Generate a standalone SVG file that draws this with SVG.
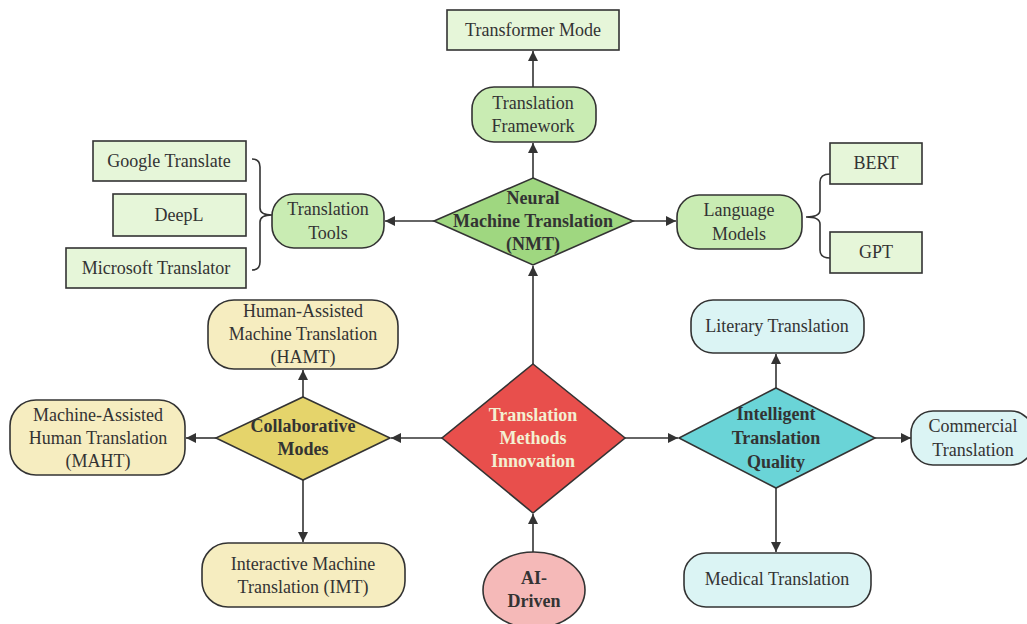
<svg xmlns="http://www.w3.org/2000/svg" width="1027" height="624" viewBox="0 0 1027 624" font-family="'Liberation Serif', serif">
<defs>
<marker id="arr" viewBox="0 0 10 10" refX="10" refY="5" markerWidth="10" markerHeight="10" markerUnits="userSpaceOnUse" orient="auto">
<path d="M0,0 L10,5 L0,10 z" fill="#333"/>
</marker>
<style>
text{font-family:'Liberation Serif',serif;font-size:18px;fill:#333;text-anchor:middle}
.b{font-weight:bold}
.w{fill:#f3f0d2}
.sh{stroke:#333;stroke-width:1.6}
.lg{fill:#e6f6d9}
.mg{fill:#c9ecb3}
.yl{fill:#f6edc0}
.cy{fill:#dbf4f4}
.ed{stroke:#333;stroke-width:1.6;fill:none}
</style>
</defs>
<rect width="1027" height="624" fill="#ffffff"/>
<g id="connectors">
<path class="ed" d="M533,364 V266" marker-end="url(#arr)"/>
<path class="ed" d="M533,178 V143" marker-end="url(#arr)"/>
<path class="ed" d="M533,87 V51" marker-end="url(#arr)"/>
<path class="ed" d="M434,221 H385" marker-end="url(#arr)"/>
<path class="ed" d="M633,221 H676" marker-end="url(#arr)"/>
<path class="ed" d="M442,438 H391" marker-end="url(#arr)"/>
<path class="ed" d="M303,397 V370" marker-end="url(#arr)"/>
<path class="ed" d="M216,438 H186" marker-end="url(#arr)"/>
<path class="ed" d="M303,480 V542" marker-end="url(#arr)"/>
<path class="ed" d="M625,438 H678" marker-end="url(#arr)"/>
<path class="ed" d="M776,388 V354" marker-end="url(#arr)"/>
<path class="ed" d="M875,438 H911" marker-end="url(#arr)"/>
<path class="ed" d="M776,488 V552" marker-end="url(#arr)"/>
<path class="ed" d="M533,552 V514" marker-end="url(#arr)"/>
<path class="ed" d="M252,159 Q260,159 260,167 V208 Q260,215 272,215 Q260,215 260,222 V262 Q260,270 252,270"/>
<path class="ed" d="M830,174 Q820,174 820,182 V210 Q820,217 806,217 Q820,217 820,224 V250 Q820,258 830,258"/>
</g>
<g id="transformer"><rect class="lg sh" x="447" y="10" width="172" height="40"/><text x="533" y="36">Transformer Mode</text></g>
<g id="framework"><rect class="mg sh" x="472" y="87" width="124" height="55" rx="22"/><text x="533" y="109">Translation</text><text x="533" y="132">Framework</text></g>
<g id="nmt"><polygon class="sh" fill="#9fd780" points="533,178 633,221 533,265 434,221"/><text class="b" x="533" y="204">Neural</text><text class="b" x="533" y="227">Machine Translation</text><text class="b" x="533" y="250">(NMT)</text></g>
<g id="tools"><rect class="mg sh" x="272" y="194" width="112" height="54" rx="22"/><text x="328" y="215">Translation</text><text x="328" y="239">Tools</text></g>
<g id="google"><rect class="lg sh" x="93" y="141" width="153" height="40"/><text x="169" y="167">Google Translate</text></g>
<g id="deepl"><rect class="lg sh" x="113" y="194" width="133" height="42"/><text x="179" y="221">DeepL</text></g>
<g id="microsoft"><rect class="lg sh" x="66" y="248" width="180" height="40"/><text x="156" y="274">Microsoft Translator</text></g>
<g id="langmodels"><rect class="mg sh" x="677" y="195" width="125" height="54" rx="22"/><text x="739" y="216">Language</text><text x="739" y="240">Models</text></g>
<g id="bert"><rect class="lg sh" x="830" y="143" width="92" height="41"/><text x="876" y="169">BERT</text></g>
<g id="gpt"><rect class="lg sh" x="830" y="232" width="92" height="41"/><text x="876" y="258">GPT</text></g>
<g id="hamt"><rect class="yl sh" x="208" y="300" width="190" height="69" rx="26"/><text x="303" y="317">Human-Assisted</text><text x="303" y="340">Machine Translation</text><text x="303" y="363">(HAMT)</text></g>
<g id="collab"><polygon class="sh" fill="#e5d46b" points="303,397 390,438 303,480 216,438"/><text class="b" x="303" y="432">Collaborative</text><text class="b" x="303" y="455">Modes</text></g>
<g id="maht"><rect class="yl sh" x="10" y="400" width="175" height="75" rx="26"/><text x="98" y="421">Machine-Assisted</text><text x="98" y="444">Human Translation</text><text x="98" y="467">(MAHT)</text></g>
<g id="imt"><rect class="yl sh" x="202" y="543" width="203" height="64" rx="26"/><text x="303" y="570">Interactive Machine</text><text x="303" y="593">Translation (IMT)</text></g>
<g id="center"><polygon class="sh" fill="#e84f4c" points="533,364 625,438 533,513 442,438"/><text class="b w" x="533" y="421">Translation</text><text class="b w" x="533" y="444">Methods</text><text class="b w" x="533" y="467">Innovation</text></g>
<g id="aidriven"><ellipse class="sh" fill="#f5b9b8" cx="534" cy="590" rx="51" ry="38"/><text class="b" x="534" y="584">AI-</text><text class="b" x="534" y="607">Driven</text></g>
<g id="itq"><polygon class="sh" fill="#6ad4d7" points="776,388 875,438 776,488 679,438"/><text class="b" x="776" y="420">Intelligent</text><text class="b" x="776" y="444">Translation</text><text class="b" x="776" y="468">Quality</text></g>
<g id="literary"><rect class="cy sh" x="691" y="300" width="173" height="53" rx="22"/><text x="777" y="332">Literary Translation</text></g>
<g id="commercial"><rect class="cy sh" x="911" y="411" width="122" height="54" rx="22"/><text x="973" y="432">Commercial</text><text x="973" y="456">Translation</text></g>
<g id="medical"><rect class="cy sh" x="684" y="553" width="187" height="54" rx="22"/><text x="777" y="585">Medical Translation</text></g>
</svg>
